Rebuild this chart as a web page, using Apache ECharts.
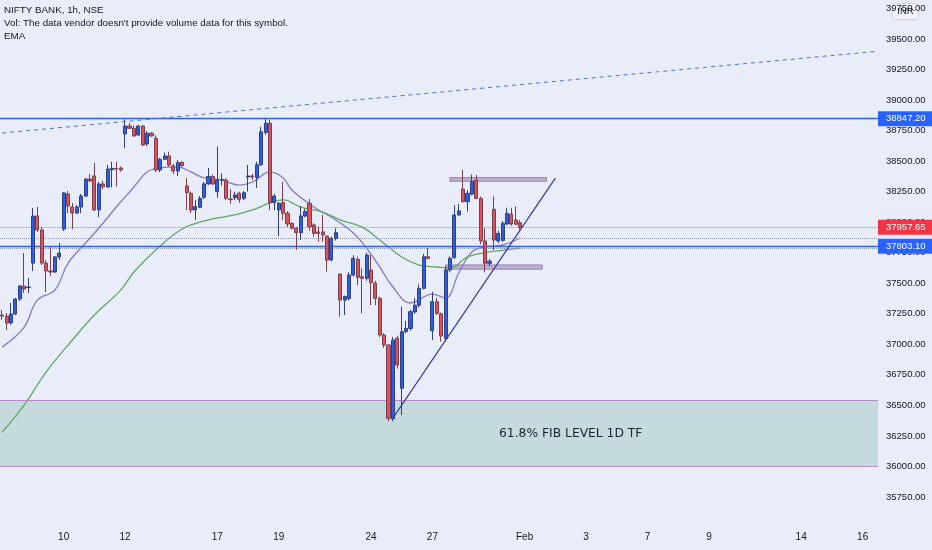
<!DOCTYPE html>
<html><head><meta charset="utf-8">
<script src="https://cdn.jsdelivr.net/npm/echarts@6/dist/echarts.min.js"></script>
<style>html,body{margin:0;padding:0;background:#e9ecf9}#c{width:932px;height:550px}</style>
</head><body><div id="c"></div>
<script>
// ---------- data ----------
const days = ['Jan 6','Jan 7','Jan 10','Jan 11','Jan 12','Jan 13','Jan 14','Jan 17','Jan 18','Jan 19','Jan 20','Jan 21','Jan 24','Jan 25','Jan 27','Jan 28','Jan 31','Feb 1','Feb 2','Feb 3','Feb 4','Feb 7','Feb 8','Feb 9','Feb 10','Feb 11','Feb 14','Feb 15','Feb 16'];
const hours = ['09:15','10:15','11:15','12:15','13:15','14:15','15:15'];
const visibleSlots = 200;
const tickDays = ['Jan 10','Jan 12','Jan 17','Jan 19','Jan 24','Jan 27','Feb 1','Feb 3','Feb 7','Feb 9','Feb 14','Feb 16'];
const tickLabels = ['10','12','17','19','24','27','Feb','3','7','9','14','16'];

// [open, close, low, high]
const candles = [
[37240,37231,37200,37280],[37231,37174,37117,37256],[37174,37248,37160,37338],[37248,37371,37240,37379],[37371,37477,37354,37485],[37477,37452,37420,37747],[37465,37469,37420,37543],
[37665,38050,37600,38116],[38050,37936,37919,38124],[37936,37665,37649,37960],[37665,37600,37428,37690],[37600,37592,37559,37797],[37592,37715,37584,37723],[37715,37747,37690,37829],
[37944,38239,37928,38247],[38231,38132,38075,38255],[38124,38075,37944,38157],[38075,38124,38067,38140],[38124,38214,38075,38231],[38214,38353,38206,38362],[38353,38337,38329,38394],
[38378,38100,38091,38484],[38100,38313,38042,38329],[38313,38290,38270,38340],[38288,38435,38280,38468],[38430,38440,38285,38495],[38440,38435,38290,38495],[38443,38427,38413,38455],
[38722,38787,38605,38842],[38787,38769,38763,38812],[38769,38706,38700,38790],[38714,38787,38706,38795],[38787,38632,38624,38795],[38640,38728,38624,38745],[38728,38706,38700,38737],
[38687,38427,38410,38710],[38427,38515,38410,38525],[38515,38542,38509,38570],[38542,38468,38454,38577],[38460,38419,38395,38477],[38419,38487,38378,38509],[38490,38462,38455,38500],
[38296,38242,38100,38362],[38236,38100,38075,38250],[38100,38127,38018,38181],[38122,38195,38115,38214],[38204,38313,38190,38329],[38313,38373,38305,38443],[38373,38313,38305,38390],
[38250,38345,38200,38620],[38345,38350,38300,38400],[38345,38195,38180,38360],[38190,38185,38150,38270],[38200,38222,38180,38250],[38236,38187,38160,38250],[38195,38241,38180,38255],
[38370,38378,38250,38468],[38378,38370,38345,38395],[38365,38470,38280,38495],[38470,38740,38460,38780],[38735,38810,38715,38850],[38810,38160,38100,38837],[38160,38214,38100,38230],
[38100,38154,37886,38165],[38160,38073,38018,38331],[38073,37985,37960,38090],[37990,37950,37940,38000],[37950,37914,37772,37960],[37914,38050,37854,38132],[38050,38087,38040,38110],
[38154,37963,37930,38190],[37977,37908,37880,37990],[37920,37908,37840,37963],[37920,37895,37840,38059],[37886,37690,37595,37890],[37690,37868,37680,37880],[37868,37914,37850,37950],
[37575,37362,37226,37580],[37362,37390,37240,37400],[37376,37567,37360,37590],[37567,37704,37555,37730],[37696,37549,37485,37717],[37553,37540,37254,37622],[37540,37731,37520,37750],
[37608,37504,37321,37731],[37500,37376,37320,37520],[37376,37076,37060,37390],[37076,36994,36970,37090],[36994,36394,36370,37000],[36390,37035,36370,37060],[37050,36830,36800,37070],
[36640,37103,36420,37308],[37105,37130,37090,37190],[37130,37267,37110,37280],[37265,37320,37250,37380],[37320,37458,37300,37490],[37458,37717,37450,37740],[37717,37704,37695,37786],
[37111,37349,37035,37430],[37349,37254,37240,37380],[37250,37068,37021,37260],[37049,37608,37020,37640],[37608,37704,37590,37720],[37710,38059,37700,38140],[38059,38092,38050,38150],
[38271,38168,38160,38427],[38168,38236,38086,38263],[38230,38331,38220,38390],[38345,38195,38190,38386],[38195,37846,37820,38210],[37846,37663,37590,37950],[37663,37680,37640,37700],
[38105,37854,37772,38210],[37846,37908,37830,37930],[37850,37990,37840,38010],[37985,38072,37977,38118],[38065,37985,37970,38118],[38018,37983,37975,38130],[37995,37957.65,37936,38018]
];

// EMA traces: [slot index, price]
const emaFast = [[0,36977],[5,37141],[8,37362],[12,37444],[15,37665],[19,37829],[23,37993],[26,38124],[30,38288],[33,38411],[36,38443],[40,38452],[43,38411],[46,38362],[50,38345],[54,38304],[57,38329],[61,38411],[64,38362],[66,38263],[71,38124],[76,38018],[80,37911],[83,37788],[86,37633],[89,37469],[93,37338],[98,37410],[101,37380],[104,37584],[107,37756],[110,37797],[114,37813],[118,37870]];
const emaSlow = [[0,36281],[5,36502],[10,36773],[16,37035],[21,37240],[27,37444],[30,37592],[35,37772],[41,37944],[47,38018],[53,38059],[57,38100],[61,38157],[64,38182],[68,38124],[73,38083],[77,38018],[82,37960],[86,37854],[91,37715],[95,37649],[99,37633],[102,37624],[106,37715],[111,37756],[118,37788]];

const lastPrice = 37957.65;
const resistanceLevel = 38847.20;
const supportLevel = 37803.10;
const dottedLevels = [37870, 37785];
const fibZone = [36000, 36540];
const fibText = '61.8% FIB LEVEL 1D TF';
const trendLine = [[89,36395],[126,38360]];
const channelLine = [[0,38730],[199,39398]];
const topBox = [[102,38365],[124,38335]];
const bottomBox = [[101,37650],[123,37615]];
const headerLines = ['NIFTY BANK, 1h, NSE', "Vol: The data vendor doesn't provide volume data for this symbol.", 'EMA'];
const currency = 'INR';

// ---------- build ----------
const categories = [];
days.forEach(d => hours.forEach(h => categories.push(d + ' ' + h)));
categories.length = visibleSlots;
const cat = i => categories[i];
const asCat = arr => arr.map(p => [cat(p[0]), p[1]]);

const uiFont = "'Liberation Sans',Arial,sans-serif";
const BLUE = '#2962ff', RED = '#f23645';

const priceTag = (v, bg) => ({
  yAxis: v,
  lineStyle: {color: bg === RED ? 'rgba(242,54,69,0.35)' : BLUE, width: bg === RED ? 1 : 1.3, type: 'solid'},
  label: {show: true, position: 'end', distance: 0, formatter: v.toFixed(2), color: '#fff',
    backgroundColor: bg, padding: [3, 8, 2, 8], fontSize: 9.5, fontFamily: uiFont}
});

const chart = echarts.init(document.getElementById('c'));
chart.setOption({
  animation: false,
  backgroundColor: '#e9ecf9',
  grid: {left: -2, right: 54, top: 0, bottom: 22.5},
  xAxis: {
    type: 'category', data: categories, boundaryGap: true,
    axisLine: {show: false}, axisTick: {show: false}, splitLine: {show: false},
    axisLabel: {
      interval: (idx, val) => val.endsWith('09:15') && tickDays.includes(val.slice(0, -6)),
      formatter: val => tickLabels[tickDays.indexOf(val.slice(0, -6))],
      color: '#131722', fontSize: 10, margin: 5, fontFamily: uiFont
    }
  },
  yAxis: {
    type: 'value', position: 'right', min: 35500, max: 39819, interval: 250,
    axisLine: {show: false}, axisTick: {show: false}, splitLine: {show: false},
    axisLabel: {formatter: v => v.toFixed(2), showMinLabel: false, showMaxLabel: false,
      color: '#131722', fontSize: 9.5, margin: 8, fontFamily: uiFont}
  },
  series: [
    {
      type: 'candlestick', data: candles, barWidth: 3.6, z: 5,
      itemStyle: {color: '#2a5ee8', color0: '#e0505a', borderColor: '#33407a', borderColor0: '#7a3e4c', borderWidth: 1},
      markLine: {
        symbol: 'none', silent: true, animation: false,
        data: [
          priceTag(resistanceLevel, BLUE),
          priceTag(lastPrice, RED),
          priceTag(supportLevel, BLUE),
          ...dottedLevels.map(v => ({yAxis: v, lineStyle: {color: '#8e94b4', type: 'dotted', width: 1}, label: {show: false}})),
          ...fibZone.map(v => ({yAxis: v, lineStyle: {color: '#b48bc8', type: 'solid', width: 1}, label: {show: false}}))
        ]
      },
      markArea: {
        silent: true,
        data: [
          [{yAxis: fibZone[0], itemStyle: {color: 'rgba(168,204,196,0.55)'},
            label: {show: true, position: ['65%', '50%'], align: 'center', verticalAlign: 'middle',
              formatter: fibText, color: '#1c2533', fontSize: 12.3, fontFamily: "'DejaVu Sans',sans-serif"}},
           {yAxis: fibZone[1]}],
          [{coord: [cat(topBox[0][0]), topBox[0][1]], itemStyle: {color: 'rgba(170,150,190,0.7)', borderColor: '#9c84b4', borderWidth: 1}},
           {coord: [cat(topBox[1][0]), topBox[1][1]]}],
          [{coord: [cat(bottomBox[0][0]), bottomBox[0][1]], itemStyle: {color: 'rgba(170,150,190,0.7)', borderColor: '#9c84b4', borderWidth: 1}},
           {coord: [cat(bottomBox[1][0]), bottomBox[1][1]]}]
        ]
      }
    },
    {type: 'line', data: asCat(emaFast), smooth: 0.4, symbol: 'none', z: 4,
      lineStyle: {color: '#8677c9', width: 1.3}},
    {type: 'line', data: asCat(emaSlow), smooth: 0.4, symbol: 'none', z: 4,
      lineStyle: {color: '#62a862', width: 1.3}},
    {type: 'line', data: asCat(trendLine), symbol: 'none', z: 6,
      lineStyle: {color: '#3b3a9c', width: 1.2}},
    {type: 'line', data: asCat(channelLine), symbol: 'none', z: 6,
      lineStyle: {color: '#4a6fe0', width: 1, type: [4, 4]}}
  ],
  graphic: [
    ...headerLines.map((t, k) => ({type: 'text', left: 4, top: 5 + k * 13, z: 100,
      style: {text: t, fill: '#131722', font: "9.8px " + uiFont}})),
    {type: 'group', right: 13, top: 3, z: 100, children: [
      {type: 'rect', shape: {x: 0, y: 0, width: 26, height: 16, r: 3}, style: {fill: '#f3f4fb', stroke: '#cfd2e2', lineWidth: 1}},
      {type: 'text', x: 13, y: 8, style: {text: currency, fill: '#131722', font: "9.5px " + uiFont, textAlign: 'center', textVerticalAlign: 'middle'}}
    ]}
  ]
});
</script></body></html>
